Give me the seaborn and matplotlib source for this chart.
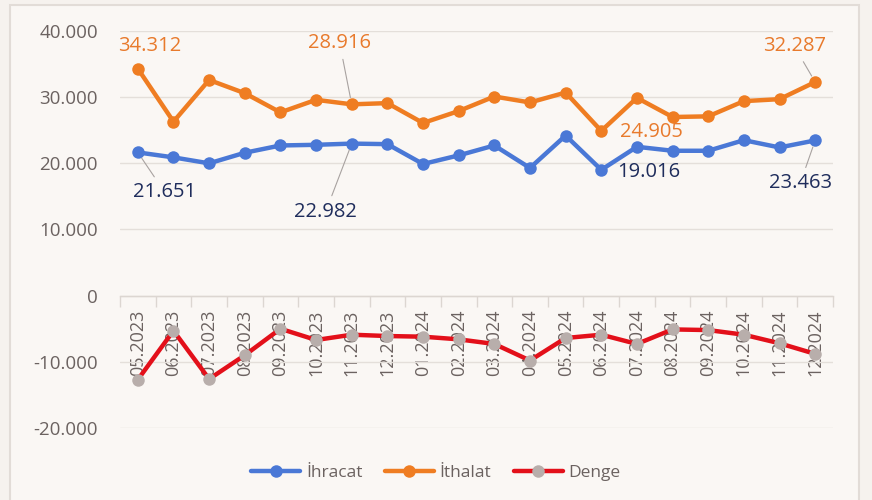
import numpy as np
import pandas as pd
import matplotlib
matplotlib.use("Agg")
import matplotlib.pyplot as plt
from matplotlib.patches import Rectangle
import seaborn as sns

# data (million USD)
months = ["05.2023", "06.2023", "07.2023", "08.2023", "09.2023", "10.2023",
          "11.2023", "12.2023", "01.2024", "02.2024", "03.2024", "04.2024",
          "05.2024", "06.2024", "07.2024", "08.2024", "09.2024", "10.2024",
          "11.2024", "12.2024"]
ihracat = [21651, 20900, 20000, 21600, 22700, 22800, 22982, 22900, 19900, 21200,
           22700, 19300, 24200, 19016, 22500, 21900, 21900, 23500, 22400, 23463]
ithalat = [34312, 26300, 32600, 30600, 27700, 29600, 28916, 29100, 26100, 27900,
           30100, 29200, 30700, 24905, 29900, 27000, 27100, 29400, 29700, 32287]
denge = [-12700, -5300, -12600, -9000, -5000, -6700, -5900, -6100, -6200, -6600,
         -7300, -9800, -6400, -5900, -7300, -5100, -5200, -5900, -7200, -8800]

# (series, index, label text, offset px, leader line)
labels_ann = [
    ("ithalat", 0, "34.312", (12, 23), False),
    ("ithalat", 6, "28.916", (-12, 61), True),
    ("ithalat", 13, "24.905", (50, -1), False),
    ("ithalat", 19, "32.287", (-21, 36), True),
    ("ihracat", 0, "21.651", (27, -40), True),
    ("ihracat", 6, "22.982", (-26, -68), True),
    ("ihracat", 13, "19.016", (47, -2), False),
    ("ihracat", 19, "23.463", (-15, -43), True),
]

df = pd.DataFrame({"i": np.arange(len(months)), "month": months,
                   "ihracat": ihracat, "ithalat": ithalat, "denge": denge})

BLUE = "#4a78d6"
ORANGE = "#ef7d22"
RED = "#e3101a"
GREY_MK = "#b8aeab"
TXT = "#6b6260"
BG = "#faf7f4"

sns.set_theme(style="white")
plt.rcParams["font.family"] = ["Open Sans", "DejaVu Sans"]

fig = plt.figure(figsize=(8.72, 5), dpi=100)
fig.patch.set_facecolor("#f6f2ee")
fig.patches.append(Rectangle((10 / 872, -0.05), 849 / 872, 1.04,
                             transform=fig.transFigure, facecolor=BG,
                             edgecolor="#e2dcd7", lw=1.5, zorder=-5))

ax = fig.add_axes([120 / 872, 72 / 500, 713 / 872, 397 / 500])
ax.set_zorder(2)
ax.patch.set_alpha(0)

kw = dict(marker="o", markersize=9, markeredgewidth=0, lw=3.2, ax=ax)
sns.lineplot(data=df, x="i", y="ihracat", color=BLUE, label="İhracat",
             markerfacecolor=BLUE, zorder=3, **kw)
sns.lineplot(data=df, x="i", y="ithalat", color=ORANGE, label="İthalat",
             markerfacecolor=ORANGE, zorder=3, **kw)
sns.lineplot(data=df, x="i", y="denge", color=RED, label="Denge",
             markerfacecolor=GREY_MK, zorder=3, **kw)

ax.set_xlim(-0.5, len(months) - 0.5)
ax.set_ylim(-20000, 40000)
yt = np.arange(-20000, 40001, 10000)
ax.set_yticks(yt)
ax.set_yticklabels([f"{v:,.0f}".replace(",", ".") for v in yt])
ax.tick_params(axis="y", length=0, pad=16, labelsize=13.5, labelcolor=TXT)
ax.yaxis.grid(True, color="#e4dfda", lw=1)
ax.set_axisbelow(True)

# category boundaries as ticks, month labels between them
ax.set_xticks(np.arange(-0.5, len(months), 1))
ax.set_xticklabels([])
ax.set_xticks(df["i"], minor=True)
ax.set_xticklabels(months, minor=True)
ax.tick_params(axis="x", which="major", length=8, width=1, color="#dcd6d1",
               direction="out", bottom=True)
ax.tick_params(axis="x", which="minor", length=0, pad=10, labelsize=13,
               labelcolor=TXT, labelrotation=90)

for s in ["top", "right", "left"]:
    ax.spines[s].set_visible(False)
ax.spines["bottom"].set_position(("data", 0))
ax.spines["bottom"].set_color("#dcd6d1")
ax.spines["bottom"].set_linewidth(1)
ax.set_xlabel("")
ax.set_ylabel("")

for col, i, txt, off, lead in labels_ann:
    c = "#e87a2c" if col == "ithalat" else "#1f2d5c"
    ap = dict(arrowstyle="-", color="#a8a2a0", lw=0.8, shrinkA=2, shrinkB=5) if lead else None
    ax.annotate(txt, xy=(df["i"][i], df[col][i]), xytext=off,
                textcoords="offset pixels", ha="center", va="center",
                fontsize=14.5, color=c, arrowprops=ap, zorder=4)

leg = ax.legend(loc="center", bbox_to_anchor=(0.5, 27 / 500),
                bbox_transform=fig.transFigure, ncol=3, frameon=False,
                fontsize=12.5, handlelength=2.8, handletextpad=0.35,
                columnspacing=1.3)
for t in leg.get_texts():
    t.set_color(TXT)

fig.savefig("out.png", dpi=100, facecolor=fig.get_facecolor())
